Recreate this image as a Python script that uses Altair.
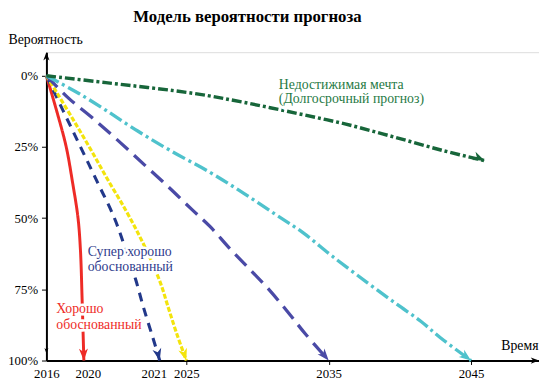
import altair as alt
import pandas as pd

# ---- data ----
series_names = ["Хорошо обоснованный", "Супер хорошо обоснованный", "Yellow", "Blue", "Cyan", "Недостижимая мечта"]

red_year = [2016, 2017.11, 2018.11, 2018.79, 2019.37, 2019.63, 2019.82, 2020]
red_pct = [0, 12.5, 24.9, 37.4, 49.8, 60.9, 79.2, 100]

navy_year = [2016, 2017.82, 2019.63, 2020.18, 2020.40, 2020.55, 2020.68, 2020.79, 2020.91, 2021]
navy_pct = [0, 12.5, 24.9, 37.4, 49.8, 60.9, 71.3, 81.7, 92.0, 100]

yellow_year = [2016, 2017.16, 2018.95, 2020.10, 2020.32, 2020.55, 2020.73, 2020.88, 2021.15, 2022.33, 2023.52, 2025]
yellow_pct = [0, 6.2, 15.9, 26.3, 36.7, 47.1, 56.1, 64.4, 73.0, 81.7, 90.3, 100]

blue_year = [2016, 2018.42, 2020.13, 2020.47, 2020.82, 2022.48, 2025.42, 2026.66, 2028.04, 2029.43, 2030.81, 2032.2, 2033.37, 2035]
blue_pct = [0, 8.0, 15.2, 23.2, 31.8, 39.4, 47.1, 52.9, 60.6, 67.8, 75.1, 83.4, 90.7, 100]

cyan_year = [2016, 2017.37, 2019.47, 2020.29, 2020.71, 2022.63, 2026.66, 2029.01, 2031.3, 2033.17, 2035.24, 2037.73, 2039.81, 2041.47, 2042.85, 2045]
cyan_pct = [0, 2.4, 6.2, 12.1, 19.4, 26.3, 33.9, 41.2, 48.8, 55.0, 63.3, 72.7, 80.3, 86.2, 92.0, 100]

green_year = [2016, 2020.29, 2025.55, 2029.01, 2032.68, 2036.14, 2039.6, 2043.06, 2045.97]
green_pct = [0, 2.4, 6.2, 9.3, 13.1, 16.9, 21.5, 26.3, 29.8]

x_ticks = [2016, 2020, 2021, 2025, 2035, 2045]
y_ticks = [0, 25, 50, 75, 100]

# ---- styles ----
colors = ["#ee2b26", "#22388a", "#f3e40c", "#4a4aa6", "#4fc2cc", "#17663a"]
dashes = [[1, 0], [9, 7], [5, 2], [16, 8], [14, 4, 3, 4], [10, 3, 3, 3]]
widths = [3, 3.5, 3, 3.5, 3, 4]
arrow_angles = [358, 346, 342, 320, 307, 293]

all_years = [red_year, navy_year, yellow_year, blue_year, cyan_year, green_year]
all_pcts = [red_pct, navy_pct, yellow_pct, blue_pct, cyan_pct, green_pct]

rows = []
heads = []
for k, (name, ys, ps) in enumerate(zip(series_names, all_years, all_pcts)):
    for i, (yr, p) in enumerate(zip(ys, ps)):
        rows.append({"series": name, "i": i, "year": yr, "pct": p})
    heads.append({"series": name, "year": ys[-1], "pct": ps[-1], "angle": arrow_angles[k]})
df = pd.DataFrame(rows)
heads_df = pd.DataFrame(heads)

FONT = "Liberation Serif, Times New Roman, DejaVu Serif, serif"
ARROW = "M0,0 L-0.6,-1.6 L0,-1.15 L0.6,-1.6 Z"

x_scale = alt.Scale(domain=[2016, 2020, 2021, 2025, 2045, 2049.8],
                    range=[0, 38, 115, 142, 431, 500], nice=False, zero=False)
y_scale = alt.Scale(domain=[-8.3, 100], reverse=True, nice=False, zero=False)

x_axis = alt.Axis(values=x_ticks, format="d", grid=False, domainColor="black", domainWidth=2,
                  labelFont=FONT, labelFontSize=13, labelColor="black", tickColor="black",
                  tickSize=4, labelPadding=3, labelFlush=False,
                  tickOpacity={"condition": {"test": "datum.value >= 2025", "value": 1}, "value": 0},
                  labelOffset={"condition": [{"test": "datum.value == 2020", "value": 4},
                                             {"test": "datum.value == 2021", "value": -6}], "value": 0},
                  title="Время", titleFont=FONT, titleFontSize=14, titleFontWeight="normal",
                  titleColor="black", titleX=499, titleY=-15, titleAlign="right",
                  titleBaseline="middle", titleAnchor="start")
y_axis = alt.Axis(values=y_ticks, labelExpr="datum.value + '%'", grid=False, domainColor="black",
                  domainWidth=2, labelFont=FONT, labelFontSize=13, labelColor="black",
                  tickColor="black", tickSize=5, labelPadding=4, labelFlush=False,
                  title="Вероятность", titleFont=FONT, titleFontSize=14, titleFontWeight="normal",
                  titleColor="black", titleAngle=0, titleX=-39, titleY=-13, titleAlign="left",
                  titleBaseline="middle", titleAnchor="start")

X = alt.X("year:Q", scale=x_scale, axis=x_axis)
Y = alt.Y("pct:Q", scale=y_scale, axis=y_axis)

color_enc = alt.Color("series:N", scale=alt.Scale(domain=series_names, range=colors), legend=None)

lines = alt.Chart(df).mark_line(strokeCap="butt", interpolate="catmull-rom").encode(
    x=X, y=Y, color=color_enc,
    strokeDash=alt.StrokeDash("series:N", scale=alt.Scale(domain=series_names, range=dashes), legend=None),
    strokeWidth=alt.StrokeWidth("series:N", scale=alt.Scale(domain=series_names, range=widths), legend=None),
    order="i:Q",
)

arrowheads = alt.Chart(heads_df).mark_point(shape=ARROW, filled=True, opacity=1, size=230, strokeWidth=0).encode(
    x="year:Q", y="pct:Q", angle=alt.Angle("angle:Q", scale=None),
    fill=alt.Fill("series:N", scale=alt.Scale(domain=series_names, range=colors), legend=None),
)

# axis arrowheads
axis_arrows_df = pd.DataFrame({"year": [2016, 2049.8, 2016], "pct": [-8.3, 100, 97.5], "angle": [180, 270, 0],
                               "size": [110, 110, 45]})
axis_arrows = alt.Chart(axis_arrows_df).mark_point(shape=ARROW, filled=True, opacity=1, color="black",
                                                   strokeWidth=0).encode(
    x="year:Q", y="pct:Q", angle=alt.Angle("angle:Q", scale=None), size=alt.Size("size:Q", scale=None),
)

# annotations
label_text = ["Недостижимая мечта", "(Долгосрочный прогноз)", "Супер хорошо", "обоснованный",
              "Хорошо", "обоснованный"]
label_year = [2031.5, 2031.5, 2020.05, 2020.05, 2017.05, 2017.05]
label_pct = [3.1, 8.3, 62.0, 67.2, 82.0, 87.5]
label_color = ["#1f7a45", "#1f7a45", "#2f3b8c", "#2f3b8c", "#ee2b26", "#ee2b26"]
labels_df = pd.DataFrame({"year": label_year, "pct": label_pct, "text": label_text, "color": label_color})
halo = alt.Chart(labels_df).mark_text(align="left", baseline="middle", font=FONT, fontSize=14,
                                      stroke="white", strokeWidth=5, fill="white").encode(
    x="year:Q", y="pct:Q", text="text:N",
)
labels = alt.Chart(labels_df).mark_text(align="left", baseline="middle", font=FONT, fontSize=14).encode(
    x="year:Q", y="pct:Q", text="text:N", color=alt.Color("color:N", scale=None),
)

chart = alt.layer(lines, arrowheads, axis_arrows, halo, labels).properties(
    width=500, height=313,
    autosize=alt.AutoSizeParams(type="none"),
    padding={"left": 39, "top": 42, "right": 0, "bottom": 22},
    title=alt.TitleParams("Модель вероятности прогноза", font=FONT, fontSize=17, fontWeight="bold",
                          anchor="middle", dx=-46, offset=7, color="black"),
).configure_view(stroke=None).configure(background="white")

chart.save("out.html", embed_options={"renderer": "svg", "actions": False})
